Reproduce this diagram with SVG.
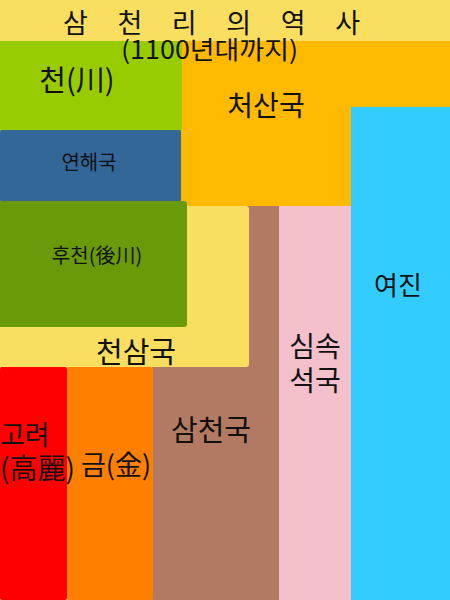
<svg xmlns="http://www.w3.org/2000/svg" width="450" height="600" viewBox="0 0 450 600">
<style>
text{font-family:"Noto Sans CJK KR","Noto Sans",sans-serif;fill:#111}
.m{text-anchor:middle}
</style>
<rect x="0" y="0" width="450" height="600" fill="#F9DE60"/>
<g id="cheosan"><rect x="180" y="41" width="270" height="165" fill="#FFBA00"/><text class="m" x="266" y="116" font-size="28">처산국</text></g>
<g id="cheon"><rect x="0" y="41" width="182" height="90" fill="#99CC00"/><text class="m" x="77" y="91" font-size="29">천(川)</text></g>
<g id="yeonhae"><rect x="0" y="130" width="181" height="72" rx="2" fill="#336699"/><text class="m" x="89" y="170" font-size="20">연해국</text></g>
<g id="samcheon"><rect x="152" y="206" width="127" height="394" fill="#B37A63"/><text class="m" x="211" y="441" font-size="29">삼천국</text></g>
<g id="cheonsam"><rect x="0" y="206" width="249" height="161" rx="3" fill="#F9DE60"/><rect x="0" y="206" width="100" height="161" fill="#F9DE60"/><text class="m" x="136" y="363" font-size="29">천삼국</text></g>
<g id="hucheon"><rect x="0" y="201" width="187" height="126" rx="3" fill="#6A9A0A"/><rect x="0" y="201" width="100" height="126" fill="#6A9A0A"/><text class="m" x="97" y="263" font-size="20">후천(後川)</text></g>
<g id="simsok"><rect x="279" y="206" width="72" height="394" fill="#F4C0CC"/><text class="m" x="315" y="357" font-size="28">심속</text><text class="m" x="315" y="391" font-size="28">석국</text></g>
<g id="yeojin"><rect x="351" y="107" width="99" height="493" fill="#33CCFF"/><text class="m" x="398" y="295" font-size="26">여진</text></g>
<g id="geum"><rect x="67" y="367" width="86" height="233" rx="2" fill="#FF8000"/><text x="81" y="475" font-size="27">금(金)</text></g>
<g id="goryeo"><rect x="0" y="367" width="67" height="233" rx="2" fill="#FF0000"/><text x="0" y="445" font-size="27">고려</text><text x="0" y="479" font-size="28">(高麗)</text></g>
<g id="title"><text x="63" y="33" font-size="27" textLength="297" lengthAdjust="spacing">삼 천 리 의 역 사</text><text x="121" y="59" font-size="25" textLength="177" lengthAdjust="spacingAndGlyphs">(1100년대까지)</text></g>
<g id="connectors"/>
</svg>
